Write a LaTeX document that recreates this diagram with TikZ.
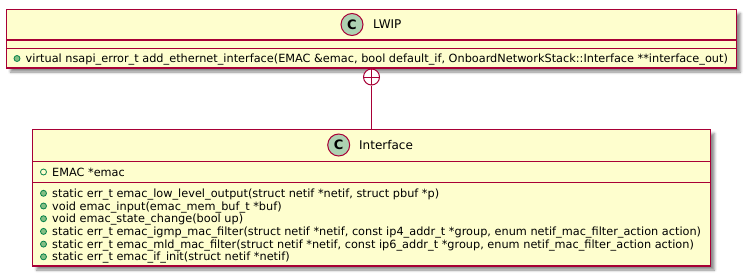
\documentclass[tikz,border=0pt]{standalone}
\usepackage{fontspec}
\setmainfont{DejaVu Sans}
\usetikzlibrary{shadows.blur}
\definecolor{umlborder}{HTML}{A80036}
\definecolor{umlfill}{HTML}{FEFECE}
\definecolor{umlicon}{HTML}{ADD1B2}
\definecolor{pubfill}{HTML}{84BE84}
\definecolor{pubborder}{HTML}{038048}
\tikzset{
  classbox/.style={draw=umlborder, fill=umlfill, line width=1.4pt, inner sep=0pt,
    blur shadow={shadow xshift=4pt, shadow yshift=-4pt, shadow blur radius=2.5pt, shadow opacity=45}},
  divider/.style={draw=umlborder, line width=1.4pt},
  cicon/.style={circle, draw=umlborder, fill=umlicon, line width=1pt, minimum size=22pt, inner sep=0pt,
    font=\fontsize{13}{13}\selectfont\bfseries},
  cname/.style={anchor=base west, inner sep=0pt, font=\fontsize{12}{14}\selectfont},
  member/.style={anchor=base west, inner sep=0pt, font=\fontsize{11.3}{13}\selectfont},
  pubmethod/.style={circle, draw=pubborder, fill=pubfill, line width=0.8pt, minimum size=6pt, inner sep=0pt},
  pubfield/.style={circle, draw=pubborder, fill=none, line width=0.8pt, minimum size=6pt, inner sep=0pt},
  nest/.style={circle, draw=umlborder, fill=white, line width=1pt, minimum size=16pt, inner sep=0pt,
    path picture={\draw[umlborder, line width=1pt] (path picture bounding box.north) -- (path picture bounding box.south)
      (path picture bounding box.west) -- (path picture bounding box.east);}},
  link/.style={draw=umlborder, line width=1pt}
}
\begin{document}
\begin{tikzpicture}[x=1pt,y=-1pt]
\useasboundingbox (0,0) rectangle (746,276);
% LWIP class
\node[classbox, minimum width=730pt, minimum height=58.5pt] (lwip) at (371.5,38.75) {};
\draw[divider] (lwip.west |- 0,40) -- (lwip.east |- 0,40);
\draw[divider] (lwip.west |- 0,48.7) -- (lwip.east |- 0,48.7);
\node[cicon] (lwipc) at (352,24.5) {C};
\node[cname] (lwipn) at (373,28.8) {LWIP};
\node[pubmethod] (lwipm1i) at (17,58.5) {};
\node[member] (lwipm1) at (25.5,62.5) {virtual nsapi\_error\_t add\_ethernet\_interface(EMAC \&emac, bool default\_if, OnboardNetworkStack::Interface **interface\_out)};
% Interface class
\node[classbox, minimum width=678pt, minimum height=136.5pt] (iface) at (371.5,197.75) {};
\draw[divider] (iface.west |- 0,161.5) -- (iface.east |- 0,161.5);
\draw[divider] (iface.west |- 0,182.3) -- (iface.east |- 0,182.3);
\node[cicon] (ifacec) at (338.7,145) {C};
\node[cname] (ifacen) at (359,149.3) {Interface};
\node[pubfield] (ifacef1i) at (43.5,172) {};
\node[member] (ifacef1) at (52,176) {EMAC *emac};
\node[pubmethod] (ifacem1i) at (43.5,193.3) {};
\node[member] (ifacem1) at (52,197.3) {static err\_t emac\_low\_level\_output(struct netif *netif, struct pbuf *p)};
\node[pubmethod] (ifacem2i) at (43.5,206) {};
\node[member] (ifacem2) at (52,210) {void emac\_input(emac\_mem\_buf\_t *buf)};
\node[pubmethod] (ifacem3i) at (43.5,218.7) {};
\node[member] (ifacem3) at (52,222.7) {void emac\_state\_change(bool up)};
\node[pubmethod] (ifacem4i) at (43.5,231.4) {};
\node[member] (ifacem4) at (52,235.4) {static err\_t emac\_igmp\_mac\_filter(struct netif *netif, const ip4\_addr\_t *group, enum netif\_mac\_filter\_action action)};
\node[pubmethod] (ifacem5i) at (43.5,244.1) {};
\node[member] (ifacem5) at (52,248.1) {static err\_t emac\_mld\_mac\_filter(struct netif *netif, const ip6\_addr\_t *group, enum netif\_mac\_filter\_action action)};
\node[pubmethod] (ifacem6i) at (43.5,256.8) {};
\node[member] (ifacem6) at (52,260.8) {static err\_t emac\_if\_init(struct netif *netif)};
% nesting connector
\node[nest] (plus) at (371.5,77) {};
\draw[link] (plus) -- (iface.north);
\end{tikzpicture}
\end{document}
